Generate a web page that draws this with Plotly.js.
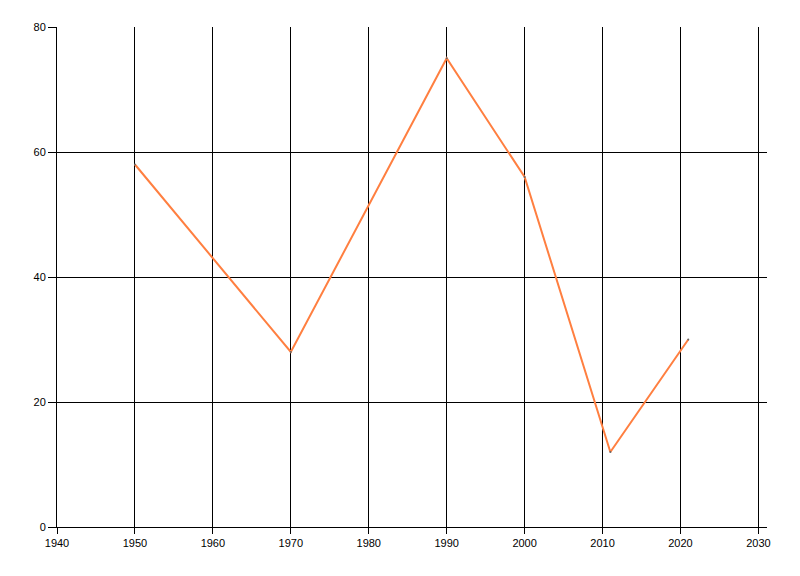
<!DOCTYPE html>
<html>
<head>
<meta charset="utf-8">
<script src="https://cdn.plot.ly/plotly-3.0.1.min.js"></script>
<style>html,body{margin:0;padding:0;background:#fff;}#chart{width:800px;height:576px;}</style>
</head>
<body>
<div id="chart"></div>
<script>
var years = [1950, 1970, 1990, 2000, 2011, 2021];
var values = [58, 28, 75, 56, 12, 30];
var xTicks = [1940, 1950, 1960, 1970, 1980, 1990, 2000, 2010, 2020, 2030];
var yTicks = [0, 20, 40, 60, 80];

var trace = {
  x: years,
  y: values,
  type: 'scatter',
  mode: 'lines+markers',
  line: {color: '#ff7f40', width: 2},
  marker: {color: '#666666', size: 2},
  hoverinfo: 'none'
};

var layout = {
  width: 800,
  height: 576,
  margin: {l: 57, r: 33, t: 27, b: 49},
  paper_bgcolor: '#ffffff',
  plot_bgcolor: '#ffffff',
  showlegend: false,
  font: {family: 'Liberation Sans, Arial, sans-serif', size: 11, color: '#000000'},
  xaxis: {
    range: [1940, 2031.1],
    tickvals: xTicks,
    ticktext: xTicks.map(String),
    showgrid: true,
    gridcolor: '#000000',
    gridwidth: 1,
    zeroline: false,
    showline: true,
    linecolor: '#000000',
    linewidth: 1,
    ticks: 'outside',
    ticklen: 6,
    tickcolor: '#000000',
    tickfont: {size: 11, color: '#000000'}
  },
  yaxis: {
    range: [0, 80],
    tickvals: yTicks,
    ticktext: yTicks.map(String),
    showgrid: true,
    gridcolor: '#000000',
    gridwidth: 1,
    zeroline: false,
    showline: true,
    linecolor: '#000000',
    linewidth: 1,
    ticks: 'outside',
    ticklen: 8,
    tickcolor: '#000000',
    tickfont: {size: 11, color: '#000000'}
  }
};

Plotly.newPlot('chart', [trace], layout, {staticPlot: true, displayModeBar: false});
</script>
</body>
</html>
